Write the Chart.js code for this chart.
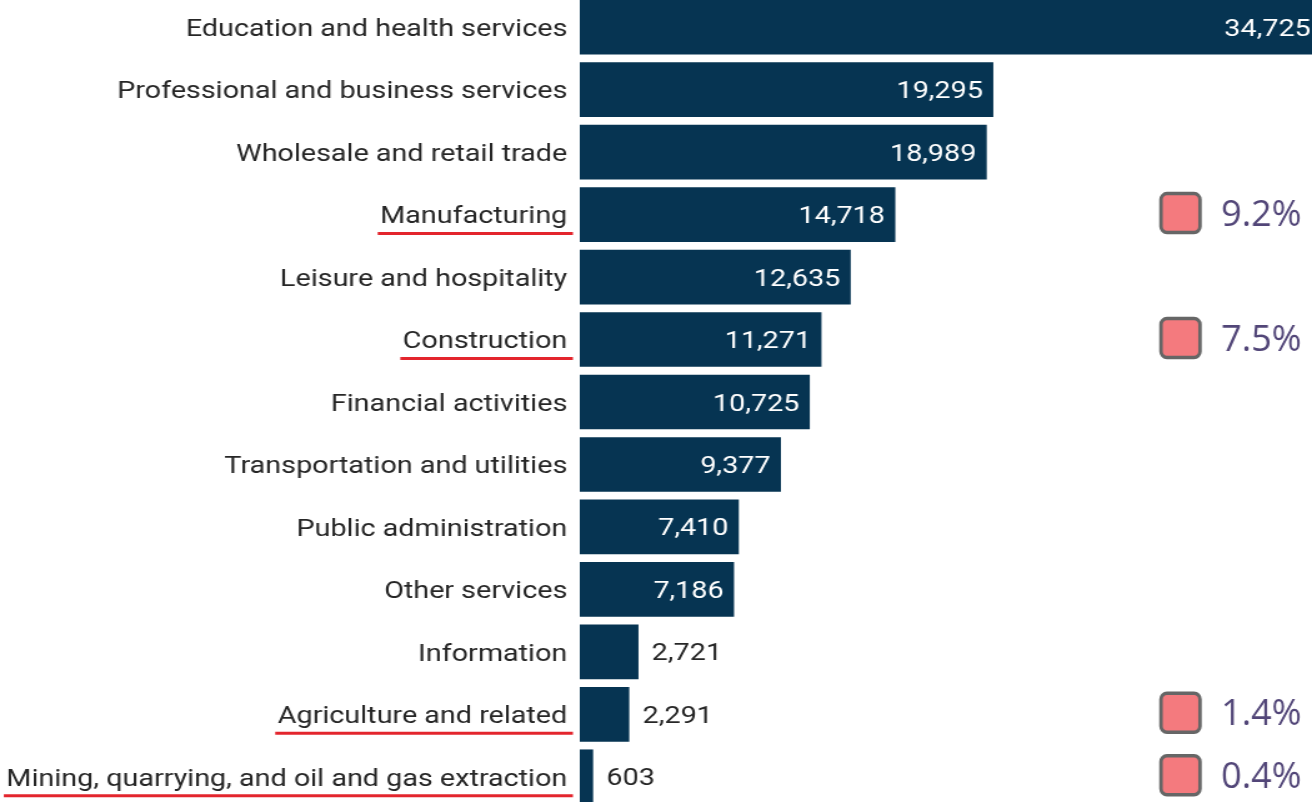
<!DOCTYPE html>
<html>
<head>
<meta charset="utf-8">
<title>Jobs by industry</title>
<script src="https://cdn.jsdelivr.net/npm/chart.js@4.4.1/dist/chart.umd.min.js"></script>
<style>
  html, body { margin: 0; padding: 0; background: #fff; overflow: hidden; }
  body { width: 1312px; height: 802px; position: relative; }
  /* the bar chart is pasted in horizontally stretched */
  #wrap { position: absolute; left: 0; top: -4px; width: 1050px; height: 812px;
          transform: scaleX(1.249524); transform-origin: 0 0; }
</style>
</head>
<body>
<div id="wrap"><canvas id="jobs" width="1050" height="812"></canvas></div>
<script>
const categories = [
  'Education and health services',
  'Professional and business services',
  'Wholesale and retail trade',
  'Manufacturing',
  'Leisure and hospitality',
  'Construction',
  'Financial activities',
  'Transportation and utilities',
  'Public administration',
  'Other services',
  'Information',
  'Agriculture and related',
  'Mining, quarrying, and oil and gas extraction'
];
const jobs = [34725, 19295, 18989, 14718, 12635, 11271, 10725, 9377, 7410, 7186, 2721, 2291, 603];
// share callouts on the right; the same rows get a red underline
const shares = ['', '', '', '9.2%', '', '7.5%', '', '', '', '', '', '1.4%', '0.4%'];
const xMax = 34200;

const STRETCH = 1312 / 1050;
const LABEL_FONT = '23px Roboto';
const BAR_COLOR = '#063452';

const fmt = v => v.toLocaleString('en-US');

const barLabels = {
  id: 'barLabels',
  afterDatasetsDraw(chart) {
    const ctx = chart.ctx;
    const area = chart.chartArea;
    const meta = chart.getDatasetMeta(0);
    ctx.save();
    ctx.font = LABEL_FONT;
    ctx.textBaseline = 'alphabetic';
    meta.data.forEach((bar, i) => {
      const v = jobs[i];
      const y = bar.y + 8.5;
      if (v >= 5000) {
        ctx.fillStyle = '#ffffff';
        ctx.textAlign = 'right';
        ctx.fillText(fmt(v), Math.min(bar.x - 8, area.right - 1), y);
      } else {
        ctx.fillStyle = '#262626';
        ctx.textAlign = 'left';
        ctx.fillText(fmt(v), bar.x + 11, y);
      }
    });
    ctx.restore();
  }
};

const callouts = {
  id: 'callouts',
  afterDraw(chart) {
    const ctx = chart.ctx;
    const yScale = chart.scales.y;
    ctx.save();
    // underline the highlighted category names
    ctx.font = LABEL_FONT;
    ctx.strokeStyle = '#e3252d';
    ctx.lineWidth = 3;
    const textRight = yScale.right - 10;
    shares.forEach((s, i) => {
      if (!s) return;
      const y = yScale.getPixelForValue(i) + 19;
      const w = ctx.measureText(categories[i]).width;
      ctx.beginPath();
      ctx.moveTo(textRight - w - 2, y);
      ctx.lineTo(textRight + 4.5, y);
      ctx.stroke();
    });
    // squares and percentages are not stretched
    ctx.scale(1 / STRETCH, 1);
    ctx.font = '36px "Open Sans"';
    ctx.textAlign = 'left';
    ctx.textBaseline = 'alphabetic';
    shares.forEach((s, i) => {
      if (!s) return;
      const y = yScale.getPixelForValue(i);
      ctx.beginPath();
      ctx.roundRect(1161, y - 21, 39, 39, 6);
      ctx.fillStyle = '#f47a7e';
      ctx.fill();
      ctx.lineWidth = 3.5;
      ctx.strokeStyle = '#666666';
      ctx.stroke();
      ctx.fillStyle = '#524678';
      ctx.fillText(s, 1221, y + 11);
    });
    ctx.restore();
  }
};

new Chart(document.getElementById('jobs'), {
  type: 'bar',
  data: {
    labels: categories,
    datasets: [{
      data: jobs,
      backgroundColor: BAR_COLOR,
      borderWidth: 0,
      barThickness: 54
    }]
  },
  options: {
    indexAxis: 'y',
    responsive: false,
    animation: false,
    layout: { padding: 0 },
    plugins: {
      legend: { display: false },
      tooltip: { enabled: false }
    },
    scales: {
      x: {
        display: false,
        min: 0,
        max: xMax
      },
      y: {
        grid: { display: false, drawTicks: false },
        border: { display: false },
        ticks: {
          color: '#262626',
          font: { family: 'Roboto', size: 23, lineHeight: '6px' },
          padding: 10,
          autoSkip: false,
          // empty first line nudges the name down onto the bar's middle
          callback: (v, i) => ['', categories[i]]
        },
        afterFit(scale) {
          scale.width = 464;
          // rows fill the full height, no room kept for the end labels
          scale.paddingTop = 0;
          scale.paddingBottom = 0;
        }
      }
    }
  },
  plugins: [barLabels, callouts]
});
</script>
</body>
</html>
